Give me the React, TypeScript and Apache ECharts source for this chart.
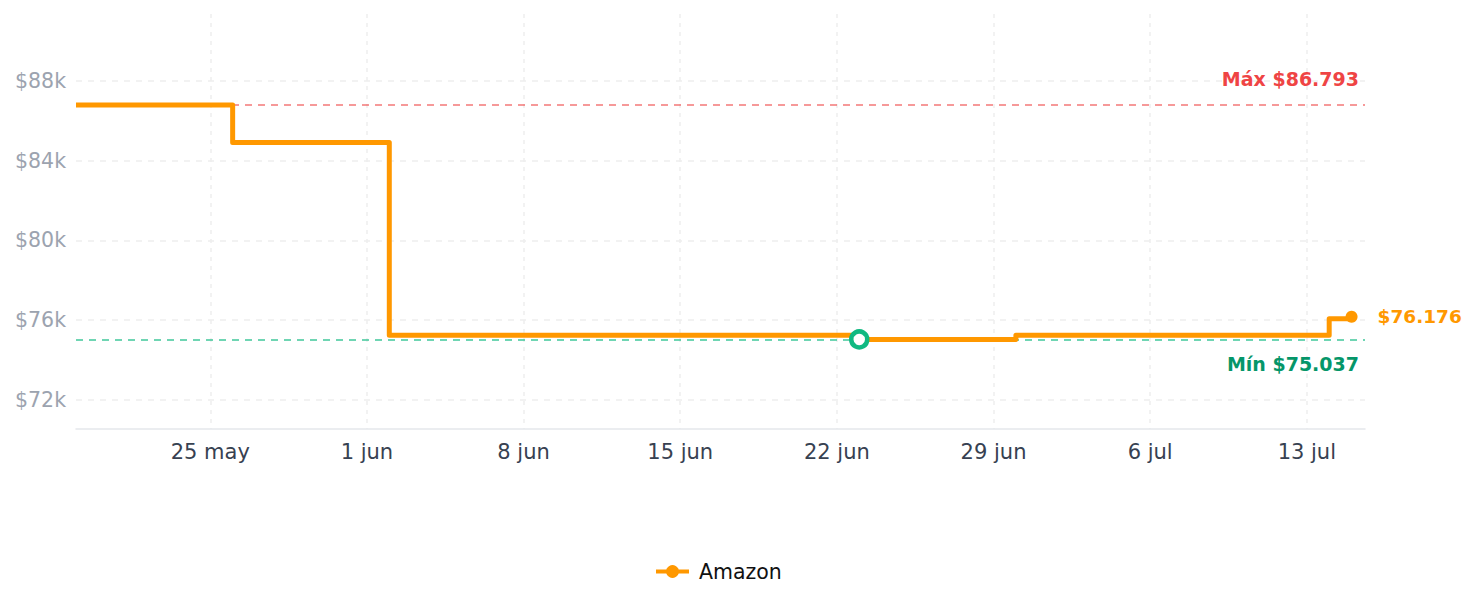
import React, { useEffect, useRef } from "react";
import * as echarts from "echarts";

const seriesName = "Amazon";
const dates = ["2025-05-19", "2025-05-26", "2025-06-02", "2025-06-23", "2025-06-30", "2025-07-14", "2025-07-15"];
const prices = [86793, 84915, 75249, 75037, 75249, 76080, 76176];
const xTickDates = ["2025-05-25", "2025-06-01", "2025-06-08", "2025-06-15", "2025-06-22", "2025-06-29", "2025-07-06", "2025-07-13"];
const yTickValues = [72000, 76000, 80000, 84000, 88000];
const MONTHS = ["ene", "feb", "mar", "abr", "may", "jun", "jul", "ago", "sep", "oct", "nov", "dic"];

const DAY = 86400000;
const toTs = (s: string) => {
  const [y, m, d] = s.split("-").map(Number);
  return Date.UTC(y, m - 1, d);
};
const fmtPrice = (n: number) => "$" + String(Math.round(n)).replace(/\B(?=(\d{3})+(?!\d))/g, ".");

const FONT = "DejaVu Sans";
const ORANGE = "#ff9800";

export default function App() {
  const ref = useRef<HTMLDivElement>(null);
  useEffect(() => {
    document.body.style.margin = "0";
    if (!ref.current) return;
    const chart = echarts.init(ref.current, undefined, { renderer: "svg" });
    const xs = dates.map(toTs);
    const data = xs.map((x, i) => [x, prices[i]]);
    const last = data.length - 1;
    const maxV = Math.max(...prices);
    const minV = Math.min(...prices);
    const minIdx = prices.indexOf(minV);
    const xMin = xs[0];
    const xMax = xs[0] + 57.6 * DAY;

    chart.setOption({
      animation: false,
      textStyle: { fontFamily: FONT },
      grid: { left: 76, right: 113, top: 14, bottom: 178 },
      legend: {
        data: [seriesName],
        bottom: 20,
        left: 649,
        itemWidth: 33,
        itemHeight: 16,
        lineStyle: { width: 4 },
        textStyle: { fontSize: 20.5, color: "#111", fontFamily: FONT, padding: [0, 0, 0, 5] },
      },
      xAxis: {
        type: "value",
        min: xMin,
        max: xMax,
        axisLine: { show: true, lineStyle: { color: "#e5e7eb", width: 1.5 } },
        axisTick: { show: false, customValues: xTickDates.map(toTs) },
        axisLabel: {
          customValues: xTickDates.map(toTs),
          color: "#374151",
          fontSize: 21,
          margin: 12,
          fontFamily: FONT,
          formatter: (v: number) => {
            const d = new Date(v);
            return `${d.getUTCDate()} ${MONTHS[d.getUTCMonth()]}`;
          },
        },
        splitLine: { show: true, lineStyle: { color: "#eeeeee", type: [4, 5], width: 1.5 } },
      },
      yAxis: {
        type: "value",
        min: 70545,
        max: 91360,
        axisLine: { show: false },
        axisTick: { show: false, customValues: yTickValues },
        axisLabel: {
          customValues: yTickValues,
          color: "#9ca3af",
          fontSize: 20.5,
          margin: 10,
          fontFamily: FONT,
          formatter: (v: number) => `$${Math.round(v / 1000)}k`,
        },
        splitLine: { show: true, lineStyle: { color: "#eeeeee", type: [6, 6], width: 1.5 } },
      },
      series: [
        {
          name: seriesName,
          type: "line",
          step: "end",
          z: 3,
          data: data.map((d, i) =>
            i === last
              ? {
                  value: d,
                  symbolSize: 12,
                  label: {
                    show: true,
                    position: "right",
                    distance: 20,
                    formatter: () => fmtPrice(prices[last]),
                    color: ORANGE,
                    fontWeight: "bold",
                    fontSize: 18.5,
                    fontFamily: FONT,
                  },
                }
              : { value: d, symbolSize: 0 }
          ),
          symbol: "circle",
          showSymbol: true,
          color: ORANGE,
          lineStyle: { color: ORANGE, width: 5, join: "round" },
          itemStyle: { color: ORANGE },
          markLine: {
            silent: true,
            z: 1,
            symbol: ["none", "none"],
            data: [
              {
                yAxis: maxV,
                lineStyle: { color: "rgba(239,68,68,0.72)", type: [7, 6], width: 1.5 },
                label: {
                  position: "insideEndTop",
                  distance: [6, 17],
                  formatter: () => "Máx " + fmtPrice(maxV),
                  color: "#ef4444",
                  fontWeight: "bold",
                  fontSize: 19,
                  fontFamily: FONT,
                },
              },
              {
                yAxis: minV,
                lineStyle: { color: "rgba(16,185,129,0.8)", type: [7, 6], width: 1.5 },
                label: {
                  position: "insideEndBottom",
                  distance: [6, 15],
                  formatter: () => "Mín " + fmtPrice(minV),
                  color: "#059669",
                  fontWeight: "bold",
                  fontSize: 19,
                  fontFamily: FONT,
                },
              },
            ],
          },
          markPoint: {
            silent: true,
            z: 6,
            symbol: "circle",
            symbolSize: 16,
            label: { show: false },
            itemStyle: { color: "#ffffff", borderColor: "#10b981", borderWidth: 4.5 },
            data: [{ coord: [xs[minIdx], minV] }],
          },
        },
      ],
    });
    return () => chart.dispose();
  }, []);
  return <div ref={ref} style={{ width: 1478, height: 607 }} />;
}
